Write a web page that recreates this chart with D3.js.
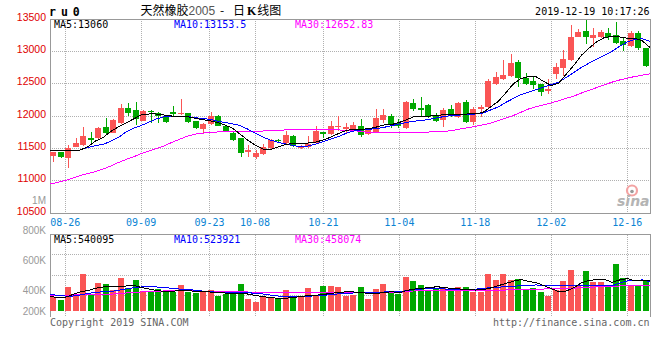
<!DOCTYPE html>
<html>
<head>
<meta charset="utf-8">
<script src="https://cdn.jsdelivr.net/npm/d3@7/dist/d3.min.js"></script>
<style>
  body { margin: 0; background: #fff; }
  svg { display: block; }
</style>
</head>
<body>
<svg id="chart" width="660" height="360"></svg>
<script>
// trading days on the chart (ru2005 daily K line)
const dates = [
  '08-22','08-23',
  '08-26','08-27','08-28','08-29','08-30',
  '09-02','09-03','09-04','09-05','09-06',
  '09-09','09-10','09-11','09-12',
  '09-16','09-17','09-18','09-19','09-20',
  '09-23','09-24','09-25','09-26','09-27',
  '09-30',
  '10-08','10-09','10-10','10-11',
  '10-14','10-15','10-16','10-17','10-18',
  '10-21','10-22','10-23','10-24','10-25',
  '10-28','10-29','10-30','10-31','11-01',
  '11-04','11-05','11-06','11-07','11-08',
  '11-11','11-12','11-13','11-14','11-15',
  '11-18','11-19','11-20','11-21','11-22',
  '11-25','11-26','11-27','11-28','11-29',
  '12-02','12-03','12-04','12-05','12-06',
  '12-09','12-10','12-11','12-12','12-13',
  '12-16','12-17','12-18','12-19'
];
const tickDates = ['08-26','09-09','09-23','10-08','10-21','11-04','11-18','12-02','12-16'];

// OHLC
const open = [11381,11439,11346,11525,11552,11660,11655,11825,11742,11887,
  12119,12093,11927,12082,12042,11989,12062,12042,12042,11923,
  11799,11876,12000,11850,11742,11655,11448,11371,11412,11500,
  11629,11578,11691,11500,11516,11578,11757,11717,11825,11794,
  11784,11845,11722,11757,11938,12000,11887,11810,12196,12119,
  12170,12000,11938,12104,11989,12221,11912,12104,12135,12495,
  12567,12619,12840,12583,12546,12495,12387,12649,12738,12866,
  13226,13319,13202,13226,13284,13253,13165,13082,13288,13047];
const high = [11450,11445,11552,11655,11835,11757,11830,11964,11950,12186,
  12196,12221,12090,12093,12057,12020,12155,12263,12050,11930,
  11885,12067,12010,11860,11750,11660,11552,11474,11567,11640,
  11640,11773,11706,11550,11691,11845,11760,11918,12000,11887,
  11912,11949,11810,12108,12104,12026,11949,12230,12263,12299,
  12180,12042,12119,12170,12221,12247,12144,12170,12567,12685,
  12866,12959,12866,12660,12608,12500,12567,12824,13021,13407,
  13341,13485,13360,13330,13356,13458,13202,13319,13319,13050];
const low = [11293,11346,11191,11513,11540,11578,11640,11706,11730,11880,
  12000,11861,11920,11887,11887,11887,11989,12015,11887,11800,
  11732,11861,11840,11745,11615,11361,11371,11330,11397,11490,
  11578,11570,11516,11490,11500,11567,11655,11710,11773,11742,
  11775,11670,11700,11750,11887,11810,11810,11800,12082,11989,
  11964,11912,11835,11989,11964,11897,11861,11980,12104,12479,
  12557,12608,12453,12479,12413,12309,12340,12567,12619,12855,
  13217,13113,13062,13202,13175,13113,13010,13072,13021,12753];
const close = [11448,11361,11510,11578,11691,11629,11810,11742,11938,12119,
  12051,11949,12077,12057,12005,11912,12031,12051,11903,11810,
  11876,12000,11850,11757,11629,11423,11474,11433,11516,11629,
  11608,11706,11536,11525,11567,11773,11726,11845,11845,11835,
  11861,11706,11794,11964,12015,11876,11845,12221,12108,12093,
  11989,11927,12093,12031,12196,11912,12104,12144,12541,12608,
  12634,12824,12592,12495,12479,12376,12418,12762,12877,13217,
  13294,13217,13253,13304,13222,13134,13098,13288,13047,12778];

// moving averages as drawn (they include days before the window)
const ma5 = [11466,11466,11466,11470,11474,11528,11613,11668,11760,11830,
  11892,11954,12015,12031,12031,12015,12000,12000,11992,11969,
  11946,11927,11900,11861,11814,11722,11629,11552,11490,11482,
  11521,11559,11578,11578,11582,11598,11629,11675,11729,11776,
  11794,11794,11804,11830,11861,11869,11900,11946,11992,12000,
  12000,12008,12023,12023,12026,12031,12036,12054,12139,12224,
  12356,12495,12580,12608,12608,12534,12472,12510,12650,12789,
  12943,13052,13149,13214,13232,13222,13202,13202,13160,13060];
const ma10 = [11463,11463,11466,11470,11474,11513,11544,11559,11613,11668,
  11753,11814,11853,11903,11954,11988,12000,12000,11992,11977,
  11961,11949,11923,11900,11879,11853,11799,11737,11675,11629,
  11595,11567,11544,11525,11536,11567,11606,11644,11683,11733,
  11768,11784,11794,11805,11825,11852,11876,11903,11920,11930,
  11949,11972,11995,12008,12015,12023,12031,12046,12093,12139,
  12209,12271,12329,12368,12408,12448,12486,12526,12598,12676,
  12753,12820,12881,12939,13000,13078,13144,13183,13194,13154];
const ma30 = [10948,10972,11003,11041,11080,11111,11142,11180,11227,11281,
  11327,11369,11417,11459,11497,11536,11590,11637,11683,11717,
  11734,11745,11753,11757,11757,11757,11760,11763,11768,11773,
  11779,11784,11784,11784,11784,11784,11784,11784,11784,11779,
  11773,11760,11745,11742,11742,11742,11742,11742,11742,11745,
  11753,11757,11763,11776,11799,11818,11841,11864,11889,11927,
  11969,12008,12057,12108,12144,12173,12201,12238,12274,12309,
  12356,12397,12441,12483,12523,12557,12585,12611,12631,12653];

// volume and its moving averages
const volume = [255000,196000,428000,285000,660000,285000,505000,481000,374000,588000,
  405000,553000,362000,351000,387000,344000,344000,464000,344000,326000,
  362000,374000,267000,303000,326000,481000,214000,166000,267000,255000,
  226000,374000,255000,267000,416000,267000,446000,446000,423000,273000,
  285000,423000,214000,392000,481000,344000,298000,606000,535000,464000,
  357000,405000,423000,362000,423000,428000,344000,339000,665000,553000,
  665000,553000,565000,392000,415000,344000,273000,374000,535000,731000,
  464000,719000,522000,522000,433000,843000,583000,464000,464000,553000];
const volMa5 = [255000,244000,244000,294000,339000,366000,405000,428000,446000,437000,
  446000,460000,419000,392000,366000,351000,344000,371000,366000,353000,
  339000,339000,330000,321000,316000,316000,303000,280000,255000,241000,
  226000,226000,241000,259000,273000,282000,294000,316000,330000,342000,
  339000,325000,316000,316000,326000,344000,326000,369000,392000,403000,
  419000,433000,415000,401000,392000,383000,374000,382000,410000,451000,
  490000,530000,562000,530000,505000,455000,398000,344000,357000,419000,
  505000,547000,558000,565000,512000,553000,579000,540000,538000,540095];
const volMa10 = [303000,276000,267000,267000,285000,312000,333000,342000,348000,369000,
  392000,414000,428000,431000,428000,419000,405000,392000,387000,371000,
  357000,344000,335000,328000,326000,326000,326000,316000,303000,285000,
  267000,260000,255000,259000,264000,271000,282000,289000,307000,316000,
  321000,330000,333000,335000,339000,339000,339000,366000,383000,392000,
  401000,405000,392000,387000,387000,387000,387000,405000,415000,424000,
  433000,442000,449000,458000,464000,455000,446000,446000,446000,446000,
  446000,446000,446000,446000,446000,499000,535000,549000,553000,523921];
const volMa30 = [285000,285000,285000,285000,300000,300000,300000,300000,300000,312000,
  321000,330000,339000,344000,351000,357000,357000,357000,357000,357000,
  353000,348000,344000,344000,342000,339000,339000,335000,335000,335000,
  335000,335000,335000,335000,335000,335000,325000,325000,325000,325000,
  325000,325000,325000,325000,325000,325000,325000,353000,357000,357000,
  357000,357000,357000,357000,357000,357000,357000,360000,366000,369000,
  374000,378000,382000,387000,389000,392000,394000,396000,401000,407000,
  415000,423000,431000,437000,442000,446000,449000,453000,455000,458074];

const priceTicks = [10500, 11000, 11500, 12000, 12500, 13000, 13500];
const volTicks = [200000, 400000, 600000, 800000, 1000000];
const volTickLabels = ['200K', '400K', '600K', '800K', '1M'];
const priceLegend = ['MA5:13060', 'MA10:13153.5', 'MA30:12652.83'];
const volLegend = ['MA5:540095', 'MA10:523921', 'MA30:458074'];
const maColors = ['#000000', '#0000ff', '#ff00ff'];

const upColor = '#fa5555';
const downColor = '#00a800';
const mono = '"DejaVu Sans Mono", monospace';
const sans = '"Liberation Sans", Arial, sans-serif';

const svg = d3.select('#chart');
svg.append('rect').attr('width', 660).attr('height', 360).attr('fill', '#fff');

// panel geometry
const left = 50, right = 650;
const priceTop = 19, priceBottom = 213;
const volTop = 234.5, volBottom = 311, volEnd = 317;

const xBand = d3.scaleBand().domain(d3.range(dates.length)).range([left, right]);
const xLine = d3.scaleLinear().domain([0, dates.length - 1]).range([left, right]); // grid + MA lines
const y = d3.scaleLinear().domain([10500, 13500]).range([priceBottom, priceTop]);
const yVol = d3.scaleLinear().domain([0, 1364000]).range([volBottom, volTop]);
const yVolLabel = d3.scaleLinear().domain([400000, 1000000]).range([290.7, 200.7]); // sina puts these labels off-grid
const yVolGrid = d3.scaleLinear().domain([0, 4]).range([volTop, volTop + 81]);

const center = i => Math.floor(xBand(i) + xBand.bandwidth() / 2);
const tickIdx = tickDates.map(d => dates.indexOf(d));

// dotted grid
const grid = svg.append('g')
  .attr('stroke', '#b0b0b0')
  .attr('stroke-dasharray', '1,1')
  .attr('shape-rendering', 'crispEdges');

grid.append('g').selectAll('line')
  .data(priceTicks.slice(1, -1))
  .join('line')
    .attr('x1', left).attr('x2', right)
    .attr('y1', d => y(d)).attr('y2', d => y(d));

grid.append('g').selectAll('line')
  .data(tickIdx)
  .join('line')
    .attr('x1', d => xLine(d)).attr('x2', d => xLine(d))
    .attr('y1', priceTop).attr('y2', priceBottom);

grid.append('g').selectAll('line')
  .data([1, 2, 3])
  .join('line')
    .attr('x1', left).attr('x2', right)
    .attr('y1', d => yVolGrid(d)).attr('y2', d => yVolGrid(d));

grid.append('g').selectAll('line')
  .data(tickIdx)
  .join('line')
    .attr('x1', d => xLine(d)).attr('x2', d => xLine(d))
    .attr('y1', volTop).attr('y2', volEnd);

// sina watermark
const logo = svg.append('g');
logo.append('circle').attr('cx', 632).attr('cy', 190.5).attr('r', 5)
  .attr('fill', 'none').attr('stroke', '#f3a3a3').attr('stroke-width', 2.2);
logo.append('circle').attr('cx', 632).attr('cy', 191.5).attr('r', 1.8).attr('fill', '#999');
logo.append('text').attr('x', 617).attr('y', 206)
  .attr('font-family', '"DejaVu Sans", sans-serif').attr('font-size', 14)
  .attr('font-style', 'italic').attr('font-weight', 'bold')
  .attr('fill', '#b4b4b4').text('sina');

// frames
const frame = svg.append('g').attr('stroke', '#999').attr('fill', 'none').attr('shape-rendering', 'crispEdges');
frame.append('rect').attr('x', left).attr('y', priceTop).attr('width', right - left).attr('height', priceBottom - priceTop);
frame.append('path').attr('d', `M${left},${volEnd}V${volTop}H${right}V${volEnd}`);

// candles
const candles = svg.append('g').attr('shape-rendering', 'crispEdges')
  .selectAll('g')
  .data(d3.range(dates.length))
  .join('g')
    .attr('fill', i => close[i] >= open[i] ? upColor : downColor)
    .attr('stroke', i => close[i] >= open[i] ? upColor : downColor);

candles.append('line')
  .attr('x1', i => center(i) + 0.5).attr('x2', i => center(i) + 0.5)
  .attr('y1', i => y(high[i])).attr('y2', i => y(low[i]));

candles.append('rect')
  .attr('stroke', 'none')
  .attr('x', i => center(i) - 3)
  .attr('width', 6)
  .attr('y', i => y(Math.max(open[i], close[i])))
  .attr('height', i => Math.max(1, y(Math.min(open[i], close[i])) - y(Math.max(open[i], close[i]))));

// volume bars
svg.append('g').attr('shape-rendering', 'crispEdges')
  .selectAll('rect')
  .data(volume)
  .join('rect')
    .attr('x', (d, i) => center(i) - 3)
    .attr('width', 6)
    .attr('y', d => yVol(d))
    .attr('height', d => yVol(0) - yVol(d))
    .attr('fill', (d, i) => close[i] >= open[i] ? upColor : downColor);

// moving average lines (aliased like the original bitmap)
const priceLine = d3.line().x((d, i) => xLine(i)).y(d => y(d));
const volLine = d3.line().x((d, i) => xLine(i)).y(d => yVol(d));

svg.append('g').attr('fill', 'none').attr('stroke-width', 1).attr('shape-rendering', 'crispEdges')
  .selectAll('path')
  .data([ma30, ma10, ma5])
  .join('path')
    .attr('stroke', (d, k) => maColors[2 - k])
    .attr('d', priceLine);

svg.append('g').attr('fill', 'none').attr('stroke-width', 1).attr('shape-rendering', 'crispEdges')
  .selectAll('path')
  .data([volMa30, volMa10, volMa5])
  .join('path')
    .attr('stroke', (d, k) => maColors[2 - k])
    .attr('d', volLine);

// price axis labels
svg.append('g')
  .attr('font-family', sans).attr('font-size', 10.5)
  .attr('fill', '#e00000').attr('text-anchor', 'end')
  .selectAll('text')
  .data(priceTicks)
  .join('text')
    .attr('x', 46)
    .attr('y', d => Math.min(Math.max(17, y(d) - 2), priceBottom - 0.5) + 3.8)
    .text(d => d);

// volume axis labels
svg.append('g')
  .attr('font-family', sans).attr('font-size', 10)
  .attr('fill', '#999').attr('text-anchor', 'end')
  .selectAll('text')
  .data(volTicks)
  .join('text')
    .attr('x', 46)
    .attr('y', d => Math.min(yVolLabel(d), volBottom) + 3.6)
    .text((d, i) => volTickLabels[i]);

// date labels
svg.append('g')
  .attr('font-family', mono).attr('font-size', 10)
  .attr('fill', '#0a84d4').attr('text-anchor', 'middle')
  .selectAll('text')
  .data(tickIdx)
  .join('text')
    .attr('x', d => xLine(d))
    .attr('y', 225.5)
    .text((d, i) => tickDates[i]);

// legends
const legendX = [54, 174, 295];
svg.append('g').attr('font-family', mono).attr('font-size', 10)
  .selectAll('text')
  .data(priceLegend)
  .join('text')
    .attr('x', (d, i) => legendX[i]).attr('y', 27.5)
    .attr('fill', (d, i) => maColors[i])
    .text(d => d);

svg.append('g').attr('font-family', mono).attr('font-size', 10)
  .selectAll('text')
  .data(volLegend)
  .join('text')
    .attr('x', (d, i) => legendX[i]).attr('y', 242.5)
    .attr('fill', (d, i) => maColors[i])
    .text(d => d);

// header
svg.append('text')
  .attr('x', 49).attr('y', 15.5)
  .attr('font-family', mono).attr('font-size', 11.5).attr('font-weight', 'bold')
  .attr('letter-spacing', 5)
  .text('ru0');

const title = svg.append('text')
  .attr('x', 140.5).attr('y', 15)
  .attr('font-family', '"Noto Sans CJK SC", sans-serif').attr('font-size', 12)
  .attr('fill', '#000');
title.append('tspan').text('天然橡胶');
title.append('tspan').attr('fill', '#555').attr('font-family', sans).text('2005');
svg.append('text').attr('x', 220).attr('y', 15)
  .attr('font-family', '"Noto Sans CJK SC", sans-serif').attr('font-size', 12).text('-');
const title2 = svg.append('text').attr('x', 233).attr('y', 15)
  .attr('font-family', '"Noto Sans CJK SC", sans-serif').attr('font-size', 12);
title2.append('tspan').text('日');
title2.append('tspan').attr('font-weight', 'bold').attr('font-family', '"Liberation Serif", serif').attr('dx', 2).text('K');
title2.append('tspan').attr('dx', 1).text('线图');

svg.append('text')
  .attr('x', 649.5).attr('y', 15)
  .attr('font-family', mono).attr('font-size', 10).attr('text-anchor', 'end')
  .text('2019-12-19 10:17:26');

// footer
svg.append('text')
  .attr('x', 50).attr('y', 326)
  .attr('font-family', mono).attr('font-size', 10).attr('fill', '#666')
  .text('Copyright 2019 SINA.COM');
svg.append('text')
  .attr('x', 649.5).attr('y', 326)
  .attr('font-family', mono).attr('font-size', 10).attr('fill', '#666')
  .attr('text-anchor', 'end')
  .text('http://finance.sina.com.cn');
</script>
</body>
</html>
